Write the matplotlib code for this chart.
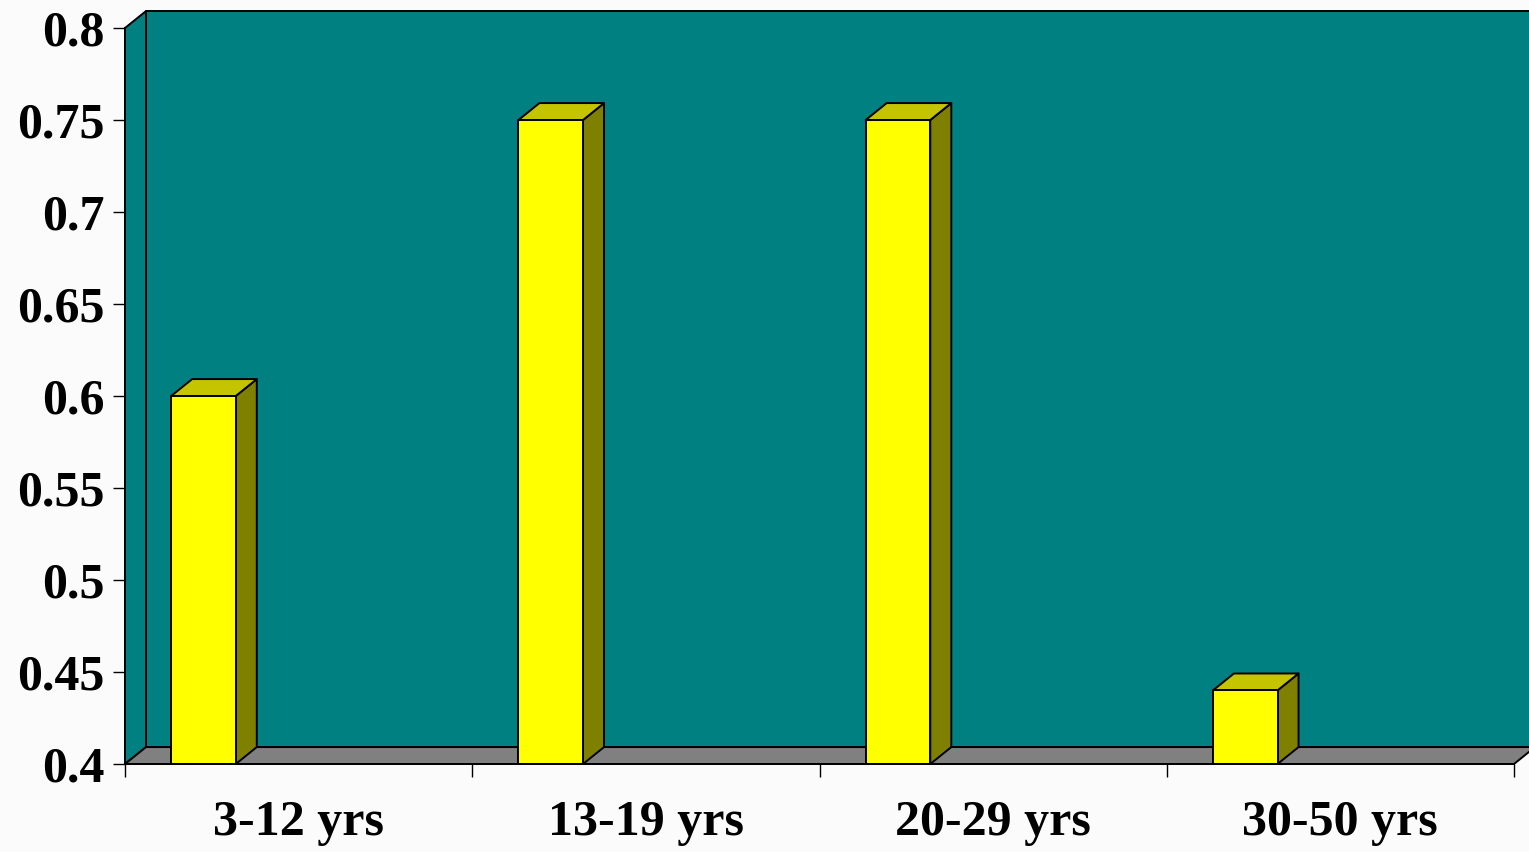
import matplotlib.pyplot as plt
from matplotlib.patches import Polygon

# age groups and their values
groups = ["3-12 yrs", "13-19 yrs", "20-29 yrs", "30-50 yrs"]
values = [0.60, 0.75, 0.75, 0.44]
y_ticks = [0.4, 0.45, 0.5, 0.55, 0.6, 0.65, 0.7, 0.75, 0.8]

YMIN, YMAX = 0.4, 0.8
DX, DY = 0.0605, 0.0092      # 3D depth offset in data units
BAR_OFF, BAR_W = 0.133, 0.186  # bar left edge within each category

plt.rcParams['font.family'] = ['Liberation Serif', 'DejaVu Serif']
plt.rcParams['font.weight'] = 'bold'

fig = plt.figure(figsize=(15.29, 8.52), dpi=100)
fig.patch.set_facecolor('#fbfbfb')
ax = fig.add_axes([125 / 1529, 88 / 852, 1389 / 1529, 736 / 852])
ax.set_xlim(0, len(groups))
ax.set_ylim(YMIN, YMAX)
ax.patch.set_visible(False)

n = len(groups)
lw = 1.4


def poly(pts, fc, z):
    p = Polygon(pts, closed=True, facecolor=fc, edgecolor='black',
                linewidth=lw, clip_on=False, zorder=z, joinstyle='round')
    ax.add_patch(p)


# back wall, left wall, floor
poly([(DX, YMIN + DY), (n + DX + 0.2, YMIN + DY), (n + DX + 0.2, YMAX + DY),
      (DX, YMAX + DY)], '#008080', 1)
poly([(0, YMIN), (DX, YMIN + DY), (DX, YMAX + DY), (0, YMAX)], '#008080', 1)
poly([(0, YMIN), (n, YMIN), (n + DX, YMIN + DY), (DX, YMIN + DY)], '#808080', 2)

# columns: front, side, top
for i, v in enumerate(values):
    x0 = i + BAR_OFF
    x1 = x0 + BAR_W
    poly([(x1, YMIN), (x1 + DX, YMIN + DY), (x1 + DX, v + DY), (x1, v)], '#808000', 3)
    poly([(x0, v), (x1, v), (x1 + DX, v + DY), (x0 + DX, v + DY)], '#c4c400', 3)
    poly([(x0, YMIN), (x1, YMIN), (x1, v), (x0, v)], '#ffff00', 4)

for s in ['top', 'right']:
    ax.spines[s].set_visible(False)
for s in ['left', 'bottom']:
    ax.spines[s].set_linewidth(lw)
    ax.spines[s].set_zorder(5)

ax.set_yticks(y_ticks)
ax.set_yticklabels([f"{t:g}" for t in y_ticks])
ax.tick_params(axis='y', length=9, width=1, pad=6, labelsize=36)

ax.set_xticks(range(n + 1))
ax.set_xticklabels([])
ax.set_xticks([i + 0.5 for i in range(n)], minor=True)
ax.set_xticklabels(groups, minor=True)
ax.tick_params(axis='x', which='major', length=9, width=1)
ax.tick_params(axis='x', which='minor', length=0, pad=26, labelsize=36)

fig.savefig('out.png', dpi=100, facecolor=fig.get_facecolor())
